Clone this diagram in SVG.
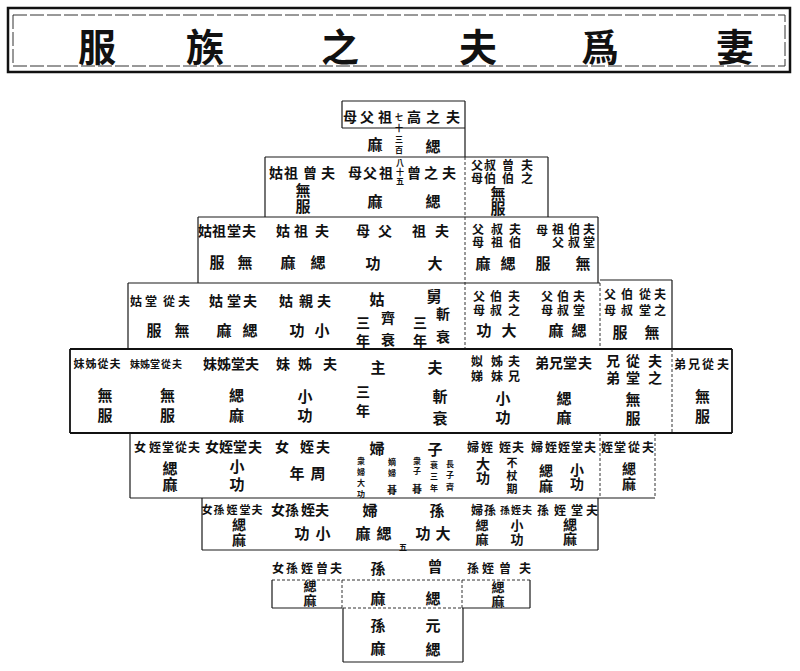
<svg xmlns="http://www.w3.org/2000/svg" width="800" height="671" viewBox="0 0 800 671">
<style>
text{font-family:"Noto Sans CJK TC","Noto Sans CJK SC",sans-serif;font-weight:700;fill:#111;text-anchor:middle;dominant-baseline:central}
.v{writing-mode:vertical-rl;text-orientation:upright}
.t{font-size:38px}
.h{font-size:14px}
.hm{font-size:13px}
.hs{font-size:12px}
.hx{font-size:10px}
.hy{font-size:11px}
.s{font-size:15px}
.m{font-size:8px}
.ln{stroke:#1a1a1a;stroke-width:1.2;fill:none}
.dl{stroke:#333;stroke-width:1;fill:none;stroke-dasharray:3 2}
.bk{stroke:#111;stroke-width:1.8;fill:none}
</style>
<rect width="800" height="671" fill="#fff"/>
<g id="title">
<rect x="8" y="8" width="782" height="64" fill="none" stroke="#111" stroke-width="2.5"/>
<rect x="13" y="15" width="772" height="51" fill="none" stroke="#333" stroke-width="1" stroke-dasharray="14 3"/>
<text class="t" x="97 205 340 478 600 735" y="44">服族之夫爲妻</text>
</g>
<g id="connectors">
<path class="ln" d="M342 101H465M342 101V128M342 128H465M465 101V157"/>
<path class="dl" d="M465 157V349"/>
<path class="ln" d="M265 157H548M265 157V217M548 157V217"/>
<path class="ln" d="M198 217H598M198 217V283M598 217V283"/>
<path class="ln" d="M128 283H600M600 280H672M128 283V349M672 280V349"/>
<path class="dl" d="M600 283V349"/>
<path class="bk" d="M70 349H732M70 349V433M732 349V433M70 433H732"/>
<path class="dl" d="M672 349V433"/>
<path class="ln" d="M130 433V498M130 498H655"/>
<path class="dl" d="M600 433V498M655 433V498"/>
<path class="ln" d="M202 498V550M598 498V550M202 550H598"/>
<path class="dl" d="M272 580H530M342 580V608M462 580V608M343 608H463"/>
<path class="ln" d="M272 580V608M272 608H342M530 580V608M462 608H530"/>
<path class="ln" d="M343 608V662M463 608V662M343 662H463"/>
</g>
<g id="n-gaozu">
<text class="h" x="350 367 385" y="116">母父祖</text>
<text class="h" x="414 433 453" y="116">高之夫</text>
<text class="m v" x="399" y="135" style="letter-spacing:3px">七十三百</text>
<text class="s" x="375" y="143">麻</text><text class="s" x="433" y="145">緦</text>
</g>
<g id="n-zeng-guzu">
<text class="h" x="276 291 310 328" y="172">姑祖曾夫</text>
<text class="s v" x="303" y="198.5" style="letter-spacing:1px">無服</text>
</g>
<g id="n-zengzu">
<text class="h" x="355 370 386" y="172">母父祖</text>
<text class="h" x="414 431 449" y="172">曾之夫</text>
<text class="m v" x="400" y="172.5" style="letter-spacing:1px">八十五</text>
<text class="s" x="375" y="200">麻</text><text class="s" x="433" y="200">緦</text>
</g>
<g id="n-zeng-boshu">
<text class="hs v" x="477" y="172" style="letter-spacing:1px">父母</text>
<text class="hs v" x="490" y="172" style="letter-spacing:1px">叔伯</text>
<text class="hs v" x="508" y="172" style="letter-spacing:1px">曾伯</text>
<text class="hs v" x="527" y="172" style="letter-spacing:1px">夫之</text>
<text class="s v" x="498" y="200.5">無服</text>
</g>
<g id="n-tang-zugu">
<text class="h" x="205 219 234 249" y="230">姑祖堂夫</text>
<text class="s" x="217" y="261">服</text><text class="s" x="245" y="261">無</text>
</g>
<g id="n-zugu">
<text class="h" x="283 301 322" y="230">姑祖夫</text>
<text class="s" x="288" y="261">麻</text><text class="s" x="318" y="261">緦</text>
</g>
<g id="n-zumu">
<text class="h" x="363 385" y="230">母父</text>
<text class="s" x="373" y="262">功</text>
</g>
<g id="n-zu">
<text class="h" x="419 442" y="230">祖夫</text>
<text class="s" x="435" y="262">大</text>
</g>
<g id="n-boshu-zu">
<text class="hs v" x="478" y="236" style="letter-spacing:1px">父母</text>
<text class="hs v" x="497" y="236" style="letter-spacing:1px">叔祖</text>
<text class="hs v" x="515" y="236" style="letter-spacing:1px">夫伯</text>
<text class="s" x="483" y="262">麻</text><text class="s" x="508" y="262">緦</text>
</g>
<g id="n-tang-boshu-zu">
<text class="hs" x="542" y="229">母</text>
<text class="hs v" x="558" y="236" style="letter-spacing:1px">祖父</text>
<text class="hs v" x="574" y="236" style="letter-spacing:1px">伯叔</text>
<text class="hs v" x="589" y="236" style="letter-spacing:1px">夫堂</text>
<text class="s" x="543" y="262">服</text><text class="s" x="583" y="262">無</text>
</g>
<g id="n-tang-cong-gu">
<text class="hs" x="136 151 169 184" y="300">姑堂從夫</text>
<text class="s" x="154" y="329">服</text><text class="s" x="182" y="329">無</text>
</g>
<g id="n-tang-gu">
<text class="h" x="216 234 250" y="300">姑堂夫</text>
<text class="s" x="224" y="329">麻</text><text class="s" x="250" y="329">緦</text>
</g>
<g id="n-qin-gu">
<text class="h" x="286 306 324" y="300">姑親夫</text>
<text class="s" x="297" y="329">功</text><text class="s" x="322" y="329">小</text>
</g>
<g id="n-gu">
<text class="s" x="377" y="298">姑</text>
<text class="h v" x="363" y="334" style="letter-spacing:4px">三年</text>
<text class="h v" x="388" y="333" style="letter-spacing:8px">齊衰</text>
</g>
<g id="n-jiu">
<text class="s" x="434" y="295">舅</text>
<text class="h v" x="420" y="334" style="letter-spacing:4px">三年</text>
<text class="h v" x="443" y="330" style="letter-spacing:9px">斬衰</text>
</g>
<g id="n-boshu">
<text class="hs v" x="479" y="304" style="letter-spacing:2px">父母</text>
<text class="hs v" x="496" y="304" style="letter-spacing:2px">伯叔</text>
<text class="hs v" x="514" y="304" style="letter-spacing:2px">夫之</text>
<text class="s" x="484" y="329">功</text><text class="s" x="509" y="329">大</text>
</g>
<g id="n-tang-boshu">
<text class="hs v" x="547" y="304" style="letter-spacing:2px">父母</text>
<text class="hs v" x="563" y="304" style="letter-spacing:2px">伯叔</text>
<text class="hs v" x="579" y="304" style="letter-spacing:2px">夫堂</text>
<text class="s" x="556" y="329">麻</text><text class="s" x="579" y="329">緦</text>
</g>
<g id="n-cong-tang-boshu">
<text class="hs v" x="610" y="304" style="letter-spacing:4px">父母</text>
<text class="hs v" x="627" y="304" style="letter-spacing:4px">伯叔</text>
<text class="hs v" x="645" y="304" style="letter-spacing:4px">從堂</text>
<text class="hs v" x="660" y="304" style="letter-spacing:4px">夫之</text>
<text class="s" x="620" y="331">服</text><text class="s" x="652" y="331">無</text>
</g>
<g id="n-cong-zimei">
<text class="hy" x="79 91 103 115" y="363">妹姊從夫</text>
<text class="s v" x="105" y="407.5" style="letter-spacing:5px">無服</text>
</g>
<g id="n-tang-cong-zimei">
<text class="hx" x="135 145 155 166 177" y="363">妹姊堂從夫</text>
<text class="s v" x="167.5" y="407.5" style="letter-spacing:5px">無服</text>
</g>
<g id="n-tang-zimei">
<text class="h" x="210 224 238 252" y="363">妹姊堂夫</text>
<text class="s v" x="236.5" y="407.5" style="letter-spacing:5px">緦麻</text>
</g>
<g id="n-zimei">
<text class="h" x="283 305 330" y="363">妹姊夫</text>
<text class="s v" x="305" y="407.5" style="letter-spacing:4px">小功</text>
</g>
<g id="n-zhu">
<text class="s" x="378" y="366">主</text>
<text class="h v" x="363" y="404" style="letter-spacing:5px">三年</text>
</g>
<g id="n-fu">
<text class="s" x="435" y="366">夫</text>
<text class="s v" x="440" y="410.5" style="letter-spacing:7px">斬衰</text>
</g>
<g id="n-xiongdi">
<text class="hs v" x="477" y="370" style="letter-spacing:3px">姒娣</text>
<text class="hs v" x="497" y="370" style="letter-spacing:3px">姊妹</text>
<text class="hs v" x="514" y="370" style="letter-spacing:3px">夫兄</text>
<text class="s v" x="503" y="409.5" style="letter-spacing:4px">小功</text>
</g>
<g id="n-tang-xiongdi">
<text class="h" x="542 556 570 585" y="362">弟兄堂夫</text>
<text class="s v" x="564" y="409.5" style="letter-spacing:4px">緦麻</text>
</g>
<g id="n-cong-tang-xiongdi">
<text class="h v" x="613" y="371" style="letter-spacing:3px">兄弟</text>
<text class="h v" x="633" y="371" style="letter-spacing:3px">從堂</text>
<text class="h v" x="655" y="371" style="letter-spacing:3px">夫之</text>
<text class="s v" x="633" y="410.5" style="letter-spacing:4px">無服</text>
</g>
<g id="n-cong-xiongdi">
<text class="hs" x="680 694 708 723" y="363">弟兄從夫</text>
<text class="s v" x="702.5" y="408.5" style="letter-spacing:5px">無服</text>
</g>
<g id="n-tang-cong-zhinv">
<text class="hs" x="140 155 168 181 194" y="446">女姪堂從夫</text>
<text class="s v" x="170" y="476.5" style="letter-spacing:1px">緦麻</text>
</g>
<g id="n-tang-zhinv">
<text class="h" x="212 226 240 255" y="446">女姪堂夫</text>
<text class="s v" x="237" y="476.5" style="letter-spacing:3px">小功</text>
</g>
<g id="n-zhinv">
<text class="h" x="282 307 323" y="446">女姪夫</text>
<text class="s" x="297" y="472">年</text><text class="s" x="318" y="472">周</text>
</g>
<g id="n-zifu">
<text class="s" x="377" y="447">婦</text>
<text class="m v" x="361" y="478.5" style="letter-spacing:3px">衆婦大功</text>
<text class="m v" x="392" y="469" style="letter-spacing:3px">嫡婦</text>
<text class="hx" x="392" y="489">朞</text>
</g>
<g id="n-zi">
<text class="s" x="435" y="448">子</text>
<text class="m v" x="417" y="467" style="letter-spacing:2px">衆子</text>
<text class="hx" x="417" y="488">朞</text>
<text class="m v" x="434" y="478" style="letter-spacing:3.5px">衰三年</text>
<text class="m v" x="450" y="477" style="letter-spacing:3.5px">長子齊</text>
</g>
<g id="n-zhifu">
<text class="hs" x="473 487" y="446">婦姪</text>
<text class="h v" x="483" y="471">大功</text>
</g>
<g id="n-zhi">
<text class="hs" x="505 518" y="446">姪夫</text>
<text class="hy v" x="512" y="477" style="letter-spacing:2px">不杖期</text>
</g>
<g id="n-tang-zhifu">
<text class="hs" x="537 551" y="446">婦姪</text>
<text class="h v" x="546" y="479" style="letter-spacing:1px">緦麻</text>
</g>
<g id="n-tang-zhi">
<text class="hs" x="564 577 590" y="446">姪堂夫</text>
<text class="h v" x="577" y="477">小功</text>
</g>
<g id="n-tang-cong-zhi">
<text class="hs" x="607 620 634 648" y="446">姪堂從夫</text>
<text class="h v" x="629" y="477" style="letter-spacing:1px">緦麻</text>
</g>
<g id="n-tang-zhisunnv">
<text class="hy" x="207 219 232 245 257" y="509">女孫姪堂夫</text>
<text class="h v" x="239" y="533" style="letter-spacing:1px">緦麻</text>
</g>
<g id="n-zhisunnv">
<text class="h" x="278 292 308 322" y="509">女孫姪夫</text>
<text class="s" x="302" y="532">功</text><text class="s" x="323" y="532">小</text>
</g>
<g id="n-sunfu">
<text class="s" x="370" y="509">婦</text>
<text class="s" x="363" y="532">麻</text><text class="s" x="384" y="532">緦</text>
</g>
<g id="n-sun">
<text class="s" x="437" y="509">孫</text>
<text class="m" x="403" y="546">五</text>
<text class="s" x="423" y="532">功</text><text class="s" x="443" y="532">大</text>
</g>
<g id="n-zhisunfu">
<text class="hs" x="477 490" y="509">婦孫</text>
<text class="hm v" x="482" y="532.5" style="letter-spacing:1px">緦麻</text>
</g>
<g id="n-zhisun">
<text class="hx" x="505 516 527" y="509">孫姪夫</text>
<text class="hm v" x="517" y="532.5" style="letter-spacing:1px">小功</text>
</g>
<g id="n-tang-zhisun">
<text class="hs" x="543 560 577 592" y="509">孫姪堂夫</text>
<text class="h v" x="570" y="532">緦麻</text>
</g>
<g id="n-zeng-zhisunnv">
<text class="hs" x="278 292 307 322 336" y="567">女孫姪曾夫</text>
<text class="hm v" x="310" y="593.5" style="letter-spacing:1px">緦麻</text>
</g>
<g id="n-zengsun">
<text class="s" x="378" y="567">孫</text><text class="s" x="378" y="597">麻</text>
<text class="s" x="435" y="565">曾</text><text class="s" x="433" y="597">緦</text>
</g>
<g id="n-zeng-zhisun">
<text class="hs" x="473 488 505 525" y="567">孫姪曾夫</text>
<text class="hm v" x="498" y="594.5" style="letter-spacing:1px">緦麻</text>
</g>
<g id="n-xuansun">
<text class="s v" x="378" y="640.5" style="letter-spacing:8px">孫麻</text>
<text class="s v" x="433" y="641.5" style="letter-spacing:9px">元緦</text>
</g>
</svg>
